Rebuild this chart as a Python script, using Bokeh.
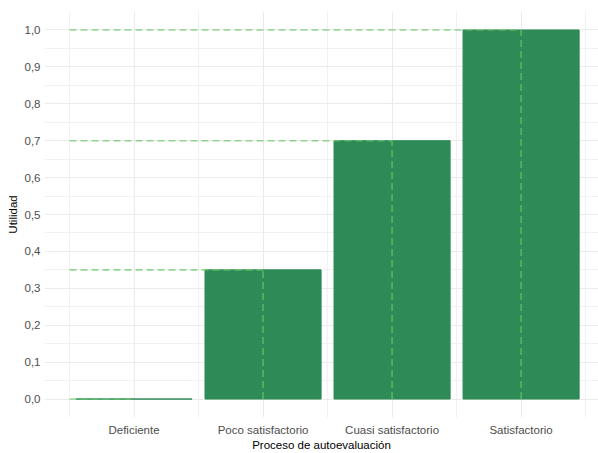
from bokeh.plotting import figure
from bokeh.models import Range1d, FixedTicker, ColumnDataSource
from bokeh.embed import file_html
from bokeh.resources import INLINE

# ---- data ----
categories = ["Deficiente", "Poco satisfactorio", "Cuasi satisfactorio", "Satisfactorio"]
positions = [1, 2, 3, 4]
utilidad = [0.0, 0.35, 0.70, 1.0]

y_ticks = [0.0, 0.1, 0.2, 0.3, 0.4, 0.5, 0.6, 0.7, 0.8, 0.9, 1.0]
y_tick_labels = ["0,0", "0,1", "0,2", "0,3", "0,4", "0,5", "0,6", "0,7", "0,8", "0,9", "1,0"]
y_minor = [-0.05, 0.05, 0.15, 0.25, 0.35, 0.45, 0.55, 0.65, 0.75, 0.85, 0.95, 1.05]
x_minor = [0.5, 1.5, 2.5, 3.5, 4.5]

x_title = "Proceso de autoevaluación"
y_title = "Utilidad"

FONT = "Liberation Sans"

p = figure(width=598, height=453, output_backend="svg", toolbar_location=None,
           x_range=Range1d(0.306, 4.6),
           y_range=Range1d(-0.05, 1.05),
           min_border_left=44, min_border_right=0, min_border_top=11, min_border_bottom=35)
p.outline_line_color = None
p.background_fill_color = "white"
p.border_fill_color = "white"

src = ColumnDataSource(dict(x=positions, top=utilidad, cat=categories))
p.vbar(x="x", top="top", bottom=0, width=0.9, source=src,
       fill_color="#2E8B57", line_color="#2E8B57", line_width=1)

# dashed guide lines
start_x = [min(x_minor)] * len(positions)
zeros = [0.0] * len(positions)
guide_color = "#69C669"
p.segment(x0=start_x, y0=utilidad, x1=positions, y1=utilidad,
          line_color=guide_color, line_alpha=0.7, line_width=1.6, line_dash="7 4")
p.segment(x0=positions, y0=zeros, x1=positions, y1=utilidad,
          line_color=guide_color, line_alpha=0.7, line_width=1.6, line_dash="7 4")

# axes
p.xaxis.ticker = FixedTicker(ticks=positions, minor_ticks=x_minor)
p.xaxis.major_label_overrides = {pos: c for pos, c in zip(positions, categories)}
p.yaxis.ticker = FixedTicker(ticks=y_ticks, minor_ticks=y_minor)
p.yaxis.major_label_overrides = {t: l for t, l in zip(y_ticks, y_tick_labels)}

for ax in (p.xaxis, p.yaxis):
    ax.axis_line_color = None
    ax.major_tick_line_color = None
    ax.minor_tick_line_color = None
    ax.major_tick_in = 0
    ax.major_tick_out = 0
    ax.minor_tick_in = 0
    ax.minor_tick_out = 0
    ax.major_label_text_font = FONT
    ax.major_label_text_font_size = "11.5px"
    ax.major_label_text_color = "#4D4D4D"
    ax.axis_label_text_font = FONT
    ax.axis_label_text_font_size = "11.5px"
    ax.axis_label_text_font_style = "normal"
    ax.axis_label_text_color = "black"

p.xaxis.axis_label = x_title
p.yaxis.axis_label = y_title
p.xaxis.major_label_standoff = 6
p.xaxis.axis_label_standoff = 0
p.yaxis.major_label_standoff = 4
p.yaxis.axis_label_standoff = 3

for g in (p.xgrid, p.ygrid):
    g.grid_line_color = "#EBEBEB"
    g.grid_line_width = 1.1
    g.minor_grid_line_color = "#EBEBEB"
    g.minor_grid_line_width = 0.7
    g.level = "underlay"

open("out.html", "w").write(file_html(p, INLINE))
